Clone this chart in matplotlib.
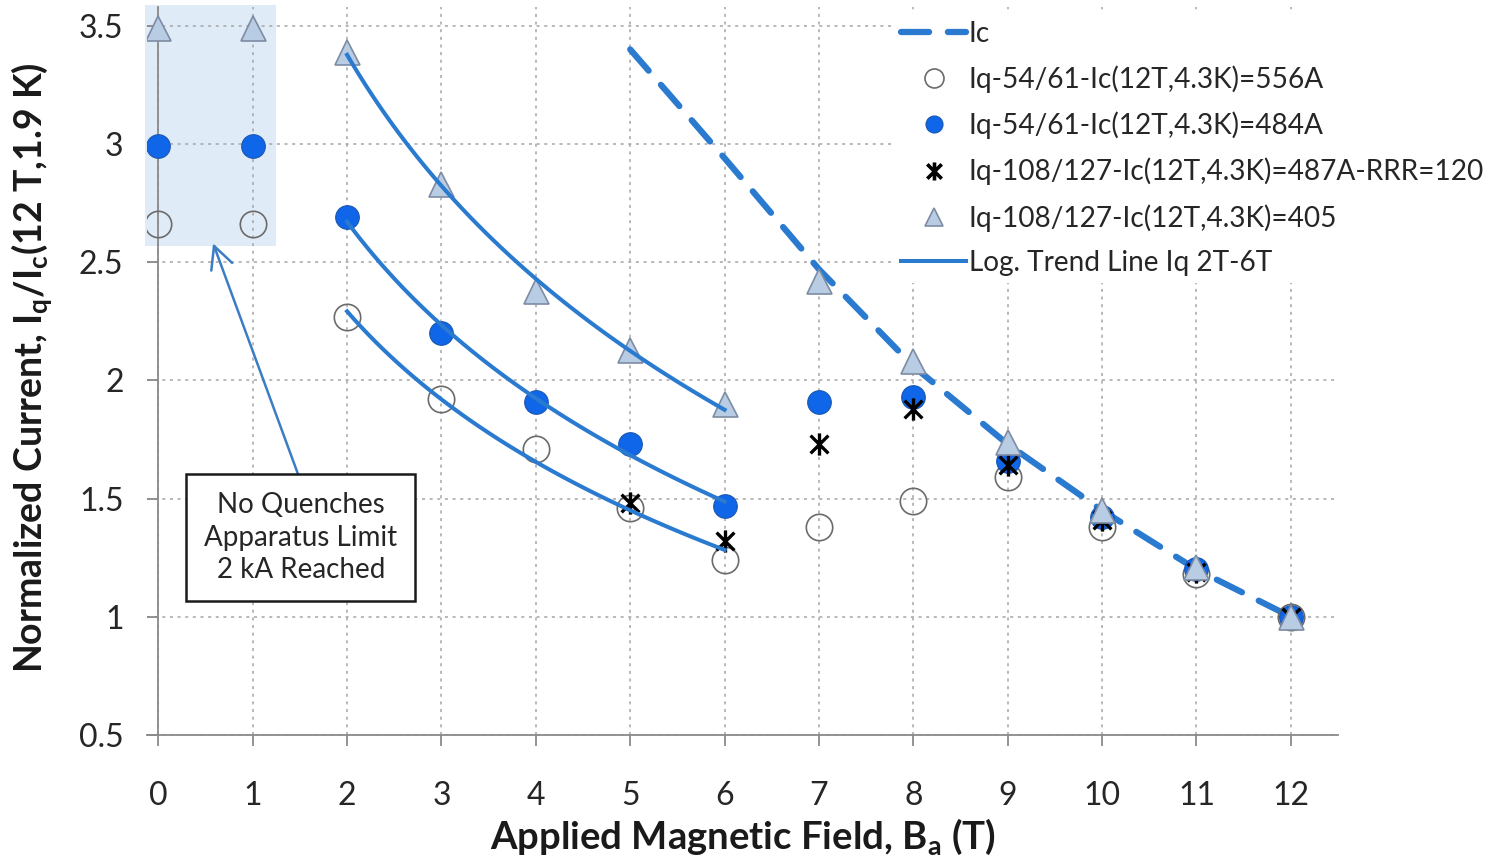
import numpy as np
import matplotlib
matplotlib.use("Agg")
import matplotlib.pyplot as plt
from matplotlib.path import Path
from matplotlib.patches import Rectangle

plt.rcParams['font.family'] = ['Lato', 'DejaVu Sans']
plt.rcParams['mathtext.fontset'] = 'custom'
plt.rcParams['mathtext.rm'] = 'Lato'
plt.rcParams['mathtext.bf'] = 'Lato:bold'

# ---- data ----
field = [0, 1, 2, 3, 4, 5, 6, 7, 8, 9, 10, 11, 12]
iq_556 = [2.66, 2.66, 2.27, 1.92, 1.71, 1.46, 1.24, 1.38, 1.49, 1.59, 1.38, 1.18, 1.00]
iq_484 = [2.99, 2.99, 2.69, 2.20, 1.91, 1.73, 1.47, 1.91, 1.93, 1.66, 1.42, 1.20, 1.00]
field_487 = [5, 6, 7, 8, 9, 10, 11, 12]
iq_487 = [1.48, 1.32, 1.73, 1.88, 1.64, 1.41, 1.19, 1.00]
iq_405 = [3.49, 3.49, 3.39, 2.83, 2.38, 2.13, 1.90, 2.42, 2.08, 1.74, 1.45, 1.21, 1.00]
field_ic = [5, 6, 7, 8, 9, 10, 11, 12]
ic = [3.40, 2.94, 2.47, 2.06, 1.73, 1.45, 1.20, 1.00]
trend_range = [2, 6]

legend_labels = ['Ic',
                 'Iq-54/61-Ic(12T,4.3K)=556A',
                 'Iq-54/61-Ic(12T,4.3K)=484A',
                 'Iq-108/127-Ic(12T,4.3K)=487A-RRR=120',
                 'Iq-108/127-Ic(12T,4.3K)=405',
                 'Log. Trend Line Iq 2T-6T']
xticks = list(range(0, 13))
yticks = [0.5, 1, 1.5, 2, 2.5, 3, 3.5]
ytick_labels = ['0.5', '1', '1.5', '2', '2.5', '3', '3.5']

# ---- styling ----
blue_line = '#2a7ad0'
blue_fill = '#0f66e8'
tri_fill = '#b8cce4'
tri_edge = '#7d8ca3'
axis_gray = '#8a8a8a'
grid_gray = '#a6a6a6'

fig = plt.figure(figsize=(14.97, 8.59), dpi=100)
ax = fig.add_axes([0.0982, 0.1444, 0.7956, 0.8476])
ax.set_xlim(-0.12, 12.5)
ax.set_ylim(0.5, 3.58)

# shaded region
ax.add_patch(Rectangle((-0.14, 2.57), 1.39, 1.02, facecolor='#e0ebf8',
                       edgecolor='none', zorder=0, clip_on=False))

ax.set_xticks(xticks)
ax.set_yticks(yticks)
ax.set_yticklabels(ytick_labels)
ax.grid(True, color=grid_gray, linestyle=(0, (2, 3)), linewidth=1.1, zorder=0.5)
ax.set_axisbelow(True)

for s in ['top', 'right']:
    ax.spines[s].set_visible(False)
ax.spines['left'].set_position(('data', 0))
ax.spines['left'].set_color(axis_gray)
ax.spines['bottom'].set_color(axis_gray)
ax.spines['left'].set_linewidth(1.3)
ax.spines['bottom'].set_linewidth(1.3)
ax.tick_params(axis='x', direction='out', length=8, width=1.3, color=axis_gray,
               pad=25, labelsize=23, labelcolor='#262626')
ax.tick_params(axis='y', direction='out', length=8, width=1.3, color=axis_gray,
               pad=17, labelsize=23, labelcolor='#262626')

# star marker (asterisk: X + vertical bar)
star_path = Path([(-1, -1), (1, 1), (-1, 1), (1, -1), (0, 1.25), (0, -1.25)],
                 [Path.MOVETO, Path.LINETO, Path.MOVETO, Path.LINETO, Path.MOVETO, Path.LINETO])

h_ic, = ax.plot(field_ic, ic, color=blue_line, lw=4.5, linestyle=(0, (4.5, 3)),
                solid_capstyle='round', dash_capstyle='round', zorder=2)
h_556, = ax.plot(field, iq_556, linestyle='none', marker='o', markersize=19,
                 markerfacecolor='none', markeredgecolor='#6b6b6b', markeredgewidth=1.2, zorder=3)
h_484, = ax.plot(field, iq_484, linestyle='none', marker='o', markersize=17,
                 markerfacecolor=blue_fill, markeredgecolor='#1a56b0', markeredgewidth=0.8, zorder=4)
h_487, = ax.plot(field_487, iq_487, linestyle='none', marker=star_path, markersize=16,
                 markerfacecolor='none', markeredgecolor='black', markeredgewidth=2.4, zorder=5)
h_405, = ax.plot(field, iq_405, linestyle='none', marker='^', markersize=18,
                 markerfacecolor=tri_fill, markeredgecolor=tri_edge, markeredgewidth=1.2, zorder=6)

# logarithmic trend lines fitted on the 2T-6T points
xs = np.linspace(trend_range[0], trend_range[1], 100)
h_tr = None
for xd, yd in [(field, iq_556), (field, iq_484), (field, iq_405)]:
    xd = np.array(xd, float)
    yd = np.array(yd, float)
    m = (xd >= trend_range[0]) & (xd <= trend_range[1])
    a, b = np.polyfit(np.log(xd[m]), yd[m], 1)
    h_tr, = ax.plot(xs, a * np.log(xs) + b, color=blue_line, lw=2.9, zorder=7)

# annotation
ax.annotate('No Quenches\nApparatus Limit\n2 kA Reached', xy=(0.58, 2.58), xytext=(1.51, 1.335),
            ha='center', va='center', fontsize=20, color='#262626', linespacing=1.3,
            bbox=dict(boxstyle='square,pad=0.65', facecolor='white', edgecolor='#1a1a1a', linewidth=1.8),
            arrowprops=dict(arrowstyle='->,head_length=0.8,head_width=0.4', color='#3c7cc4', lw=1.8,
                            shrinkA=0, shrinkB=0, relpos=(0.52, 1.0)),
            zorder=8)

ax.set_xlabel('Applied Magnetic Field, B$_\\mathregular{a}$ (T)', fontsize=27.5, fontweight='bold',
              color='#1a1a1a')
ax.xaxis.set_label_coords(0.5, -0.112)
ax.set_ylabel('Normalized Current, I$_\\mathregular{q}$/I$_\\mathregular{c}$(12 T,1.9 K)', fontsize=27,
              fontweight='bold', color='#1a1a1a')
ax.yaxis.set_label_coords(-0.077, 0.505)

leg = fig.legend([h_ic, h_556, h_484, h_487, h_405, h_tr], legend_labels,
                 loc='upper left', bbox_to_anchor=(0.588, 1.0), frameon=True, framealpha=1,
                 facecolor='white', edgecolor='none', fontsize=20.2, handlelength=2.3,
                 handletextpad=0.1, labelspacing=0.66, borderpad=0.25, markerscale=0.72)
for t in leg.get_texts():
    t.set_color('#262626')
lh = leg.legend_handles
lh[3].set_markersize(13)
lh[3].set_markeredgewidth(2.6)

fig.savefig('out.png', dpi=100)
